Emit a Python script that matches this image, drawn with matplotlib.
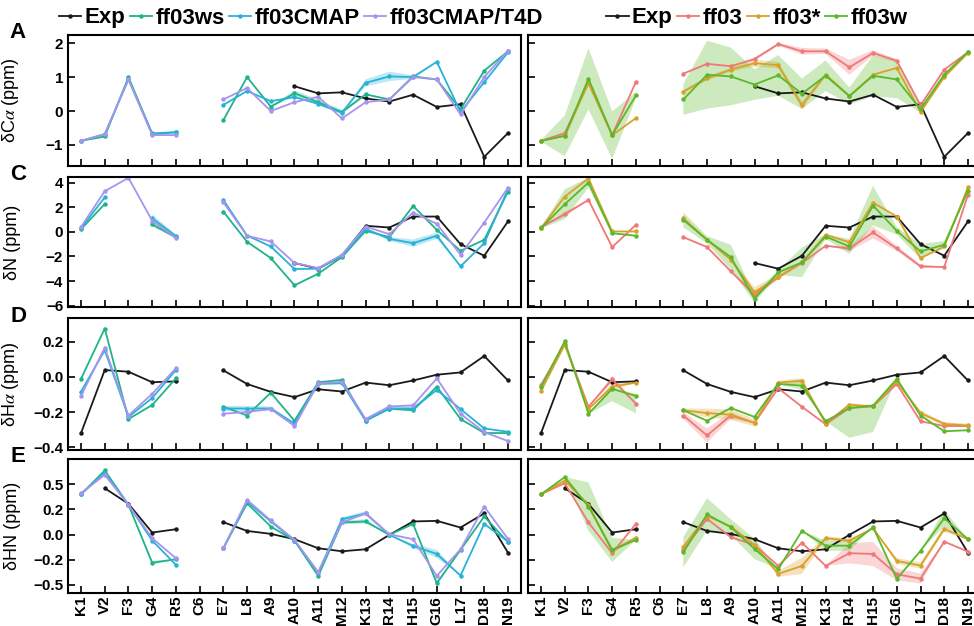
import numpy as np
import matplotlib
matplotlib.use("Agg")
import matplotlib.pyplot as plt

plt.rcParams["font.family"] = ["Liberation Sans", "DejaVu Sans"]
plt.rcParams["mathtext.fontset"] = "stix"

nan = np.nan
residues = ["K1", "V2", "F3", "G4", "R5", "C6", "E7", "L8", "A9", "A10",
            "A11", "M12", "K13", "R14", "H15", "G16", "L17", "D18", "N19"]

# ---- C-alpha secondary shifts (ppm) ----
exp_ca = [nan, nan, nan, nan, nan, nan, nan, nan, nan, 0.73, 0.52, 0.55, 0.37, 0.28, 0.48, 0.12, 0.20, -1.35, -0.65]
ws_ca = [-0.88, -0.75, 1.00, -0.68, -0.63, nan, -0.27, 1.00, 0.13, 0.52, 0.26, -0.03, 0.49, 0.34, 1.02, 0.93, 0.05, 1.19, 1.76]
cmap_ca = [-0.88, -0.68, 0.93, -0.66, -0.62, nan, 0.18, 0.59, 0.29, 0.41, 0.21, -0.05, 0.83, 1.02, 1.00, 1.45, -0.03, 0.85, 1.73]
t4d_ca = [-0.88, -0.68, 0.93, -0.71, -0.71, nan, 0.34, 0.68, 0.00, 0.26, 0.42, -0.22, 0.26, 0.34, 1.00, 0.93, -0.10, 1.00, 1.78]
ff03_ca = [-0.88, -0.65, 0.83, -0.71, 0.86, nan, 1.10, 1.39, 1.32, 1.53, 1.97, 1.76, 1.76, 1.29, 1.71, 1.48, 0.17, 1.22, 1.73]
star_ca = [-0.88, -0.73, 0.83, -0.71, -0.21, nan, 0.57, 0.96, 1.22, 1.41, 1.35, 0.17, 1.07, 0.44, 1.07, 1.27, -0.03, 1.00, 1.71]
w_ca = [-0.88, -0.73, 0.95, -0.71, 0.46, nan, 0.34, 1.07, 1.02, 0.78, 1.05, 0.51, 1.04, 0.44, 1.04, 0.93, 0.05, 1.07, 1.74]

# ---- N secondary shifts (ppm) ----
exp_n = [nan, nan, nan, nan, nan, nan, nan, nan, nan, -2.53, -2.99, -1.94, 0.49, 0.35, 1.24, 1.24, -1.00, -1.94, 0.84]
ws_n = [0.22, 2.26, nan, 0.60, -0.45, nan, 1.64, -0.81, -2.13, -4.34, -3.40, -2.05, 0.08, -0.43, 2.10, 0.16, -1.54, -0.65, 3.26]
cmap_n = [0.30, 2.80, nan, 1.10, -0.35, nan, 2.59, -0.30, -1.19, -3.02, -2.99, -1.94, 0.24, -0.57, -0.92, -0.32, -2.80, -0.92, 3.45]
t4d_n = [0.40, 3.30, 4.38, 0.90, -0.50, nan, 2.40, -0.32, -0.78, -2.53, -2.94, -1.86, 0.43, -0.19, 1.56, 0.65, -1.86, 0.75, 3.58]
ff03_n = [0.38, 1.43, 2.59, -1.24, 0.57, nan, -0.43, -1.24, -3.20, -5.10, -3.70, -2.53, -1.13, -1.35, -0.05, -1.35, -2.80, -2.86, 2.99]
star_n = [0.30, 2.86, 4.34, 0.03, 0.03, nan, 1.10, -0.65, -2.26, -4.90, -3.67, -2.48, -0.24, -0.84, 2.37, 1.24, -2.13, -1.19, 3.61]
w_n = [0.30, 2.24, 4.00, -0.11, -0.32, nan, 0.97, -0.65, -2.05, -5.44, -3.29, -2.48, -0.38, -1.19, 2.13, 0.08, -1.59, -1.05, 3.34]

# ---- H-alpha secondary shifts (ppm) ----
exp_ha = [-0.32, 0.040, 0.030, -0.030, -0.025, nan, 0.038, -0.040, -0.085, -0.115, -0.070, -0.083, -0.032, -0.047, -0.020, 0.013, 0.026, 0.120, -0.020]
ws_ha = [-0.010, 0.277, -0.240, -0.160, -0.008, nan, -0.170, -0.220, -0.090, -0.250, -0.030, -0.017, -0.250, -0.180, -0.190, -0.055, -0.240, -0.320, -0.320]
cmap_ha = [-0.083, 0.153, -0.228, -0.120, 0.040, nan, -0.180, -0.180, -0.180, -0.266, -0.040, -0.036, -0.249, -0.180, -0.180, -0.074, -0.183, -0.294, -0.313]
t4d_ha = [-0.108, 0.168, -0.220, -0.096, 0.050, nan, -0.210, -0.200, -0.183, -0.280, -0.036, -0.028, -0.240, -0.168, -0.162, -0.008, -0.210, -0.315, -0.366]
ff03_ha = [-0.045, 0.190, -0.170, -0.013, -0.153, nan, -0.220, -0.334, -0.220, -0.262, -0.064, -0.170, -0.270, -0.177, -0.168, -0.040, -0.253, -0.280, -0.280]
star_ha = [-0.080, 0.185, -0.183, -0.055, -0.032, nan, -0.190, -0.206, -0.215, -0.262, -0.032, -0.021, -0.266, -0.158, -0.168, -0.026, -0.206, -0.268, -0.277]
w_ha = [-0.058, 0.204, -0.210, -0.068, -0.108, nan, -0.190, -0.250, -0.177, -0.228, -0.040, -0.049, -0.253, -0.177, -0.164, -0.011, -0.220, -0.310, -0.304]

# ---- HN secondary shifts (ppm) ----
exp_hn = [nan, 0.460, 0.305, 0.020, 0.053, nan, 0.123, 0.036, 0.007, -0.046, -0.136, -0.166, -0.146, -0.003, 0.130, 0.136, 0.070, 0.210, -0.180]
ws_hn = [0.400, 0.636, 0.295, -0.280, -0.245, nan, -0.136, 0.310, 0.080, -0.060, -0.410, 0.120, 0.130, -0.003, 0.106, -0.483, -0.152, 0.180, -0.076]
cmap_hn = [0.400, 0.616, 0.295, -0.060, -0.300, nan, -0.136, 0.328, 0.130, -0.060, -0.377, 0.152, 0.210, -0.003, -0.113, -0.192, -0.407, 0.106, -0.070]
t4d_hn = [0.410, 0.593, 0.295, -0.036, -0.235, nan, -0.136, 0.344, 0.140, -0.053, -0.374, 0.120, 0.210, 0.003, -0.046, -0.410, -0.146, 0.278, -0.043]
ff03_hn = [0.400, 0.510, 0.120, -0.185, 0.106, nan, -0.152, 0.156, -0.026, -0.103, -0.311, -0.080, -0.311, -0.185, -0.192, -0.394, -0.437, -0.070, -0.169]
star_hn = [0.400, 0.536, 0.295, -0.162, -0.030, nan, -0.119, 0.185, 0.080, -0.103, -0.390, -0.311, -0.036, -0.060, 0.063, -0.262, -0.308, 0.056, -0.046]
w_hn = [0.400, 0.570, 0.278, -0.152, -0.053, nan, -0.175, 0.200, 0.073, -0.142, -0.344, 0.036, -0.110, -0.110, 0.073, -0.440, -0.162, 0.162, -0.046]

# ---- spread over replicas: (below, above) the mean, only where noticeable ----
sd_ws_ca = [0, 0, 0, 0, 0, 0, 0, 0, 0.03, 0.08, 0.08, 0.06, 0.03, 0, 0, 0, 0, 0, 0]
sd_cmap_ca = [0, 0, 0, 0, 0, 0, 0, 0, 0, 0, 0, 0, 0.10, 0.14, 0.05, 0, 0, 0, 0]
sd_ff03_ca = [0, 0, 0, 0, 0, 0, 0, 0, 0, 0.05, 0.04, 0.10, 0.08, 0.22, 0.08, 0.05, 0, 0, 0]
sd_star_ca = [0, 0, 0, 0, 0, 0, 0.04, 0.06, 0.06, 0.10, 0.10, 0.12, 0.05, 0.04, 0, 0, 0, 0, 0]
sd_w_ca = [0.02, 0.60, 0.90, 0.70, 0.10, 0, 0.45, 1.00, 0.85, 0.45, 0.60, 0.45, 0.45, 0.25, 0.60, 0.55, 0.10, 0.05, 0.03]

sd_ws_n = [0, 0, 0, 0.15, 0.10, 0, 0, 0, 0, 0, 0, 0, 0, 0, 0, 0, 0, 0, 0]
sd_cmap_n = [0, 0, 0, 0.30, 0.15, 0, 0, 0, 0, 0, 0, 0.10, 0, 0.15, 0.30, 0.25, 0, 0, 0]
sd_ff03_n = [0, 0.20, 0, 0, 0, 0, 0, 0, 0, 0.30, 0, 0, 0, 0.20, 0.50, 0.20, 0.15, 0, 0]
sd_star_n = [0, 0, 0, 0, 0, 0, 0, 0, 0, 0.40, 0.20, 0, 0, 0, 0, 0, 0, 0, 0]
sd_w_n = [0.05, 1.20, 0.40, 0.05, 0.05, 0, 0.60, 0.30, 1.00, 0.30, 0.20, 1.20, 0.20, 0.60, 1.60, 0.30, 0.60, 0.30, 0.05]

sd_cmap_ha = [0, 0, 0, 0, 0, 0, 0.015, 0.015, 0.012, 0, 0, 0, 0, 0.01, 0.015, 0, 0, 0, 0]
sd_ff03_ha = [0, 0.01, 0, 0.02, 0, 0, 0.02, 0.04, 0.02, 0, 0, 0, 0, 0, 0, 0, 0, 0, 0]
sd_star_ha = [0, 0, 0, 0.02, 0, 0, 0.01, 0.025, 0.03, 0.02, 0.01, 0.015, 0, 0.01, 0, 0, 0.015, 0.01, 0.01]
sd_w_ha_lo = [0, 0.01, 0, 0.07, 0.10, 0, 0, 0, 0, 0, 0, 0.025, 0, 0.17, 0.15, 0, 0, 0, 0]
sd_w_ha_hi = [0, 0.01, 0, 0.01, 0.01, 0, 0, 0, 0, 0, 0, 0.025, 0, 0.01, 0.01, 0, 0, 0, 0]

sd_ws_hn = [0, 0, 0, 0.02, 0, 0, 0, 0, 0, 0, 0, 0.02, 0.02, 0, 0, 0.02, 0, 0, 0]
sd_cmap_hn = [0, 0, 0, 0, 0, 0, 0, 0, 0, 0, 0, 0.02, 0.02, 0, 0.02, 0.04, 0, 0, 0]
sd_ff03_hn = [0, 0, 0, 0, 0, 0, 0, 0, 0, 0, 0, 0, 0, 0.10, 0.12, 0.06, 0.05, 0, 0]
sd_star_hn = [0, 0, 0, 0.03, 0, 0, 0, 0, 0, 0, 0.03, 0.08, 0.02, 0.02, 0, 0.03, 0.03, 0.03, 0]
sd_w_hn = [0, 0, 0.24, 0.12, 0, 0, 0.15, 0.16, 0.08, 0.10, 0, 0, 0.05, 0.05, 0, 0, 0, 0.08, 0]

c_exp = "#1a1a1a"
c_ws = "#1fb38a"
c_cmap = "#27b2d8"
c_t4d = "#a993ee"
c_ff03 = "#f07878"
c_star = "#d8a228"
c_w = "#5cb82a"

x = np.arange(1, len(residues) + 1)

left_sets = [
    [(exp_ca, None, c_exp, "Exp"), (ws_ca, sd_ws_ca, c_ws, "ff03ws"), (cmap_ca, sd_cmap_ca, c_cmap, "ff03CMAP"), (t4d_ca, None, c_t4d, "ff03CMAP/T4D")],
    [(exp_n, None, c_exp, "Exp"), (ws_n, sd_ws_n, c_ws, "ff03ws"), (cmap_n, sd_cmap_n, c_cmap, "ff03CMAP"), (t4d_n, None, c_t4d, "ff03CMAP/T4D")],
    [(exp_ha, None, c_exp, "Exp"), (ws_ha, None, c_ws, "ff03ws"), (cmap_ha, sd_cmap_ha, c_cmap, "ff03CMAP"), (t4d_ha, None, c_t4d, "ff03CMAP/T4D")],
    [(exp_hn, None, c_exp, "Exp"), (ws_hn, sd_ws_hn, c_ws, "ff03ws"), (cmap_hn, sd_cmap_hn, c_cmap, "ff03CMAP"), (t4d_hn, None, c_t4d, "ff03CMAP/T4D")],
]
right_sets = [
    [(exp_ca, None, c_exp, "Exp"), (ff03_ca, sd_ff03_ca, c_ff03, "ff03"), (star_ca, sd_star_ca, c_star, "ff03*"), (w_ca, sd_w_ca, c_w, "ff03w")],
    [(exp_n, None, c_exp, "Exp"), (ff03_n, sd_ff03_n, c_ff03, "ff03"), (star_n, sd_star_n, c_star, "ff03*"), (w_n, sd_w_n, c_w, "ff03w")],
    [(exp_ha, None, c_exp, "Exp"), (ff03_ha, sd_ff03_ha, c_ff03, "ff03"), (star_ha, sd_star_ha, c_star, "ff03*"), (w_ha, (sd_w_ha_lo, sd_w_ha_hi), c_w, "ff03w")],
    [(exp_hn, None, c_exp, "Exp"), (ff03_hn, sd_ff03_hn, c_ff03, "ff03"), (star_hn, sd_star_hn, c_star, "ff03*"), (w_hn, sd_w_hn, c_w, "ff03w")],
]

ylabels = [r"δC$\alpha$ (ppm)", "δN (ppm)", r"δH$\alpha$ (ppm)", "δHN (ppm)"]
letters = ["A", "C", "D", "E"]
ylims = [(-1.62, 2.24), (-6.1, 4.45), (-0.417, 0.337), (-0.58, 0.75)]
yticks = [[-1, 0, 1, 2], [-6, -4, -2, 0, 2, 4], [-0.4, -0.2, 0.0, 0.2], [-0.5, -0.25, 0, 0.25, 0.5]]
yticklabels = [["−1", "0", "1", "2"], ["−6", "−4", "−2", "0", "2", "4"],
               ["−0.4", "−0.2", "0.0", "0.2"], ["−0.5", "−0.2", "0.0", "0.2", "0.5"]]

# rows: (top px, bottom px) in a 626 px tall figure
rows = [(35, 166), (177, 307), (318, 450), (459, 593)]
W, H = 974, 626

fig = plt.figure(figsize=(W / 100, H / 100), dpi=100)


def draw(ax, sets):
    for vals, sd, col, lab in sets:
        v = np.array(vals, dtype=float)
        if sd is not None:
            if isinstance(sd, tuple):
                lo, hi = np.array(sd[0], dtype=float), np.array(sd[1], dtype=float)
            else:
                lo = hi = np.array(sd, dtype=float)
            ax.fill_between(x, v - lo, v + hi, color=col, alpha=0.3, lw=0)
        ax.plot(x, v, "-", color=col, lw=1.3, marker="o", ms=2.2, label=lab)


axes_left, axes_right = [], []
for r, (top, bot) in enumerate(rows):
    for col_left, sets, store in [(68, left_sets, axes_left), (528, right_sets, axes_right)]:
        ax = fig.add_axes([col_left / W, 1 - bot / H, 453 / W, (bot - top) / H])
        draw(ax, sets[r])
        ax.set_xlim(0.45, 19.55)
        ax.set_ylim(*ylims[r])
        ax.set_xticks(x)
        ax.set_yticks(yticks[r])
        ax.tick_params(direction="in", length=5, width=1.2, top=False, right=False)
        ax.tick_params(axis="x", pad=2)
        for sp in ax.spines.values():
            sp.set_linewidth(1.5)
        if r == 3:
            ax.set_xticklabels(residues, rotation=90, fontsize=11, fontweight="bold")
        else:
            ax.set_xticklabels([])
        if store is axes_left:
            ax.set_yticklabels(yticklabels[r], fontsize=11, fontweight="bold")
            ax.set_ylabel(ylabels[r], fontsize=13)
            ax.yaxis.set_label_coords(-0.103, 0.5)
            fig.text(18 / W, 1 - (top - 2) / H, letters[r], fontsize=16, fontweight="bold",
                     ha="center", va="center")
        else:
            ax.set_yticklabels([])
        store.append(ax)

leg_kw = dict(ncol=4, frameon=False, handlelength=1.0, handletextpad=0.15,
              columnspacing=0.2, prop={"weight": "bold", "size": 16},
              loc="center", borderaxespad=0)
h, l = axes_left[0].get_legend_handles_labels()
fig.legend(h, l, bbox_to_anchor=(301 / W, 1 - 18 / H), **leg_kw)
h, l = axes_right[0].get_legend_handles_labels()
fig.legend(h, l, bbox_to_anchor=(757 / W, 1 - 18 / H), **leg_kw)

fig.savefig("out.png", dpi=100)
